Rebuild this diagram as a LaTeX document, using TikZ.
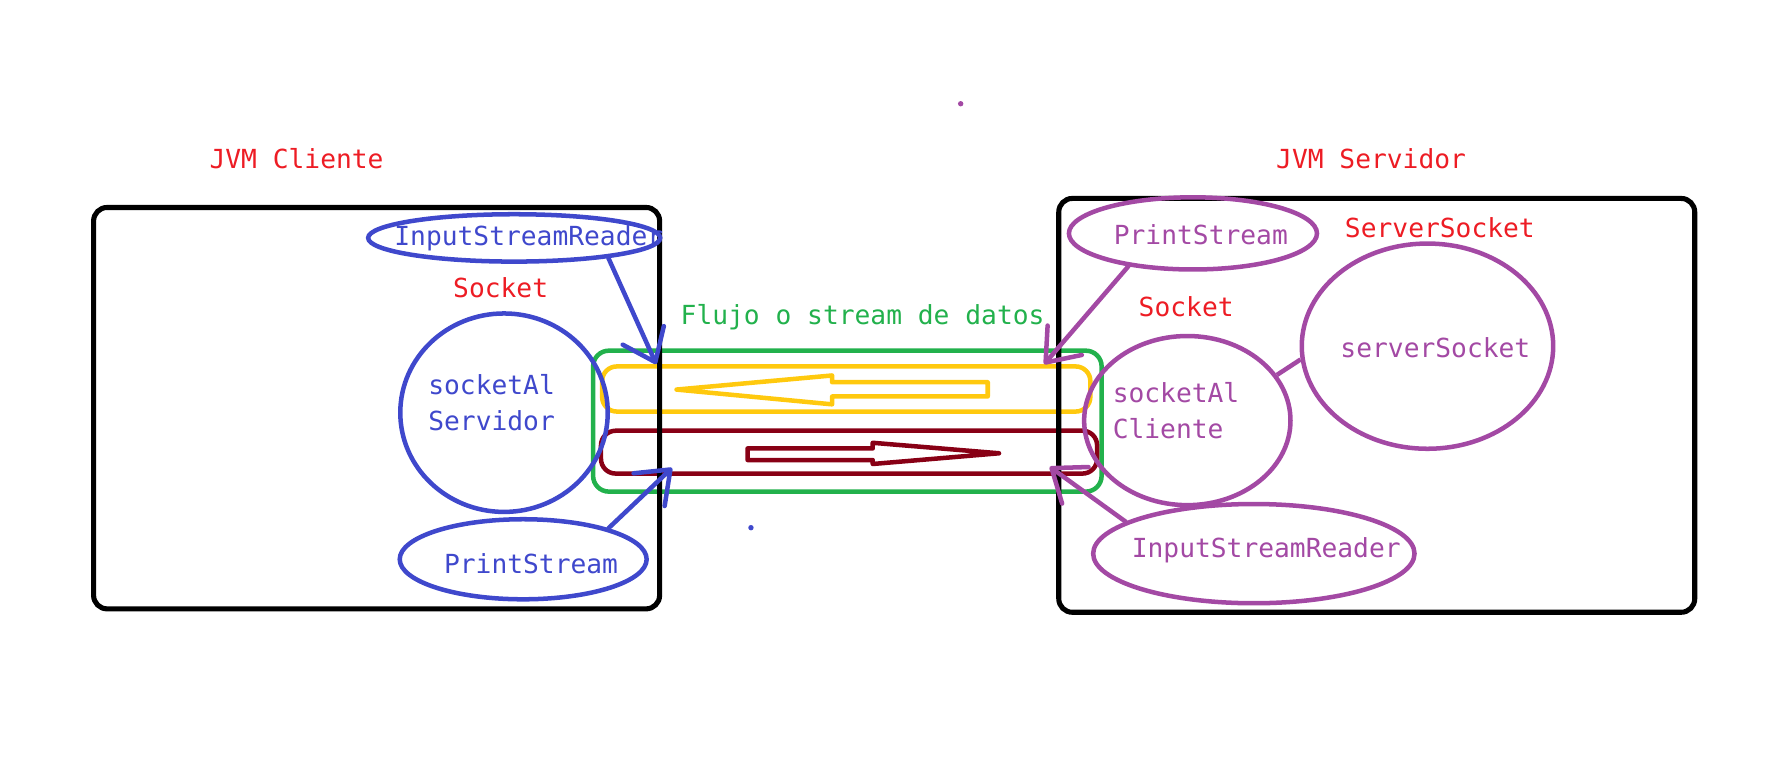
\documentclass[tikz,border=0pt]{standalone}
\usepackage{fontspec}
\setmonofont{DejaVu Sans Mono}
\usetikzlibrary{shapes.geometric,arrows.meta}
\definecolor{pred}{HTML}{ED1C24}
\definecolor{pblue}{HTML}{3F48CC}
\definecolor{ppurple}{HTML}{A349A4}
\definecolor{pgreen}{HTML}{22B14C}
\definecolor{pyellow}{HTML}{FFC90E}
\definecolor{pmaroon}{HTML}{880015}
\tikzset{
  lbl/.style={font=\ttfamily\fontsize{23.3}{31.5}\selectfont, inner sep=0pt, align=left},
  jvm/.style={draw=black, line width=4.5pt, rounded corners=12pt},
  obj/.style={ellipse, draw=#1, line width=4pt, inner sep=0pt},
  pipe/.style={draw=#1, line width=4pt, rounded corners=13pt},
  barb/.style={draw=#1, line width=4pt, line cap=round, -{Straight Barb[length=26pt,width=40pt,round]}},
}
\begin{document}
\begin{tikzpicture}[x=1pt,y=-1pt]
\useasboundingbox (0,0) rectangle (1568,692);

\node[lbl,text=pred] (jvmC) at (263,141) {JVM Cliente};
\node[lbl,text=pred] (jvmS) at (1216,141) {JVM Servidor};
\fill[ppurple] (852,92) circle (2.4);
\fill[pblue] (666,468) circle (2.4);

\node[lbl,text=pgreen] (flujo) at (765,281) {Flujo o stream de datos};
\draw[pipe=pgreen, rounded corners=14pt] (526,311) rectangle (977,436);
\draw[pipe=pyellow] (534,325) rectangle (967,365);
\draw[pipe=pmaroon] (533,382) rectangle (973,420);
\draw[pyellow, line width=4pt, line join=round] (600,345.5) -- (738,333) -- (738,339) -- (876,339) -- (876,351.6) -- (738,351.6) -- (738,358.6) -- cycle;
\draw[pmaroon, line width=4pt, line join=round] (663,397.7) -- (774,397.7) -- (774,392.7) -- (886,402) -- (774,411.5) -- (774,408) -- (663,408) -- cycle;

\draw[jvm] (83,184) rectangle (585,540);
\draw[jvm] (939,176) rectangle (1503,543);

\node[lbl,text=pblue] (isrCt) at (469,211) {InputStreamReader};
\node[obj=pblue, minimum width=259, minimum height=42] (isrC) at (456,211) {};
\node[lbl,text=pred] (sockC) at (444,255) {Socket};
\node[obj=pblue, minimum width=184, minimum height=176] (salS) at (447,366) {};
\node[lbl,text=pblue] (salSt) at (436,357) {socketAl\\Servidor};
\node[obj=pblue, minimum width=219, minimum height=71] (psC) at (464,496) {};
\node[lbl,text=pblue] (psCt) at (471,500) {PrintStream};

\node[obj=ppurple, minimum width=220, minimum height=64] (psS) at (1058,207) {};
\node[lbl,text=ppurple] (psSt) at (1065,208) {PrintStream};
\node[lbl,text=pred] (ssockS) at (1277,202) {ServerSocket};
\node[lbl,text=pred] (sockS) at (1052,272) {Socket};
\node[obj=ppurple, minimum width=223, minimum height=182] (srv) at (1266,307) {};
\node[lbl,text=ppurple] (srvt) at (1273,308) {serverSocket};
\node[obj=ppurple, minimum width=183, minimum height=150] (salC) at (1053,373) {};
\node[lbl,text=ppurple] (salCt) at (1043,364) {socketAl\\Cliente};
\node[obj=ppurple, minimum width=285, minimum height=88] (isrS) at (1112,491) {};
\node[lbl,text=ppurple] (isrSt) at (1123,488) {InputStreamReader};

\draw[ppurple, line width=4pt] (salC.27) -- (srv.186);

\coordinate (inC) at (582,323);
\coordinate (outC) at (596,415);
\coordinate (outS) at (926,323);
\coordinate (inS) at (931,414);
\draw[barb=pblue] (isrC.-12) -- (inC);
\draw[barb=pblue] (psC.20) -- (outC);
\draw[barb=ppurple] (psS.207) -- (outS);
\draw[barb=ppurple] (isrS.166) -- (inS);
\end{tikzpicture}
\end{document}
